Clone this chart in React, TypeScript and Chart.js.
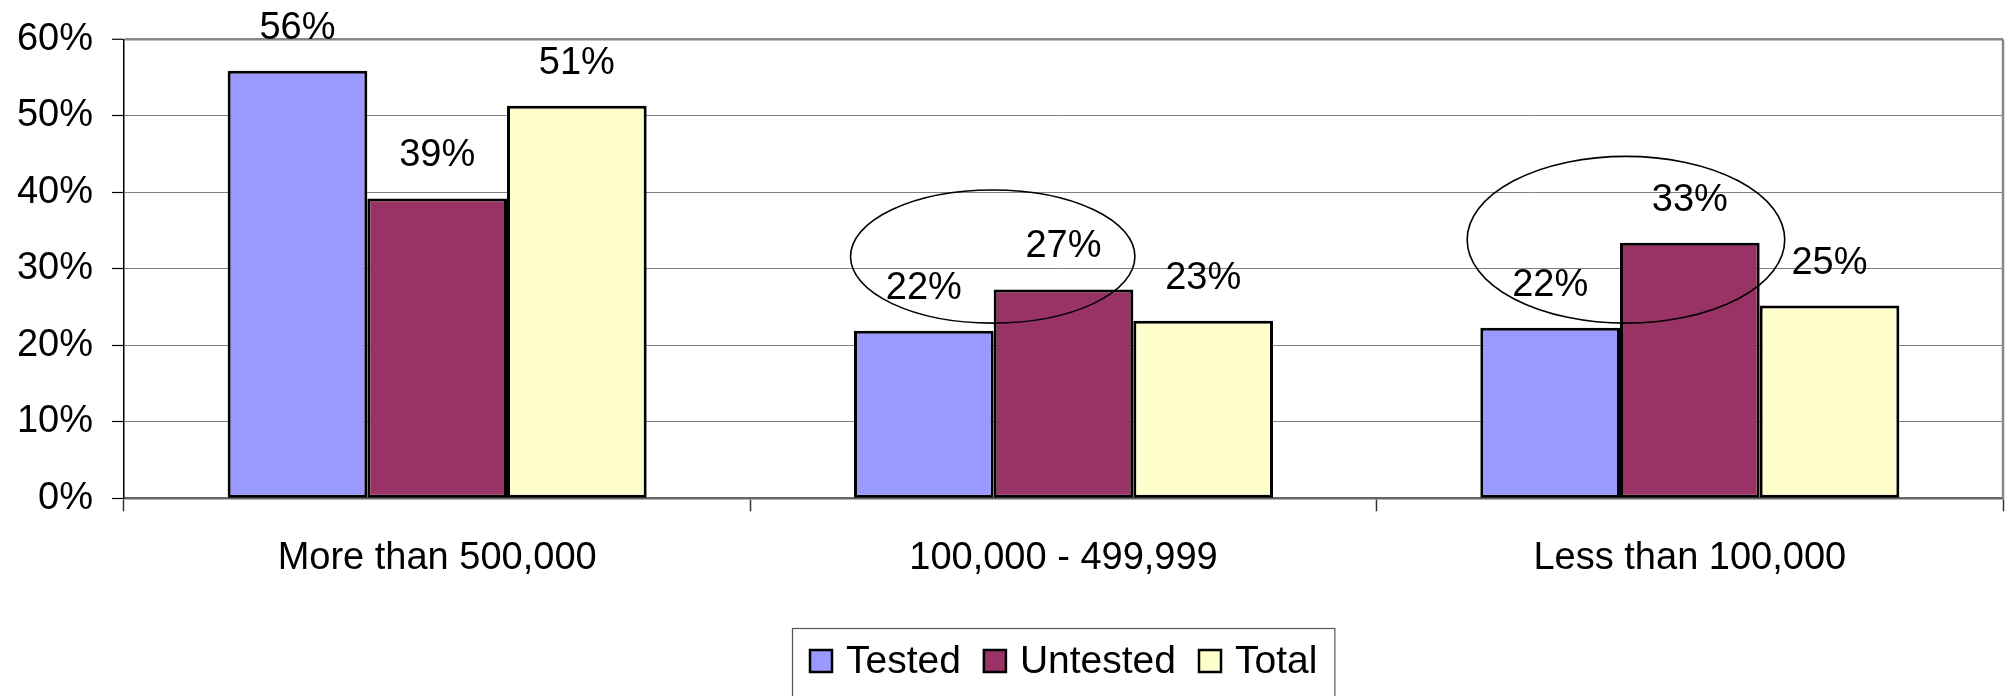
import React, { useEffect, useRef } from "react";
import { Chart, registerables } from "chart.js";

Chart.register(...registerables);

const FONT = '"Liberation Sans", Arial, Helvetica, sans-serif';

// ---- Data ----
const categories = ["More than 500,000", "100,000 - 499,999", "Less than 100,000"];
const seriesNames = ["Tested", "Untested", "Total"];
const testedValues = [55.9, 21.9, 22.3];
const untestedValues = [39.2, 27.3, 33.4];
const totalValues = [51.3, 23.2, 25.2];
const seriesColors = ["#9999FF", "#993366", "#FFFFCC"];
const yTickValues = [0, 10, 20, 30, 40, 50, 60];

// ---- Annotation ellipses (in category / value units) ----
const ellipseCategory = [1, 2];
const ellipseShift = [-0.113, -0.102]; // fraction of a category width
const ellipseCenterValue = [31.6, 33.8]; // percent
const ellipseHalfWidth = [0.227, 0.2535]; // fraction of a category width
const ellipseHalfHeight = [8.7, 10.9]; // percent

const annotationPlugin = {
  id: "annotations",
  beforeDatasetsDraw(chart: any) {
    const { ctx, chartArea } = chart;
    ctx.save();
    ctx.strokeStyle = "#888";
    ctx.lineWidth = 2.5;
    ctx.beginPath();
    ctx.moveTo(chartArea.right, chartArea.top);
    ctx.lineTo(chartArea.right, chartArea.bottom);
    ctx.stroke();
    ctx.restore();
  },
  afterDatasetsDraw(chart: any) {
    const ctx = chart.ctx;
    ctx.save();
    ctx.font = `38px ${FONT}`;
    ctx.fillStyle = "#000";
    ctx.textAlign = "center";
    ctx.textBaseline = "alphabetic";
    chart.data.datasets.forEach((ds: any, di: number) => {
      const meta = chart.getDatasetMeta(di);
      meta.data.forEach((el: any, i: number) => {
        ctx.fillText(Math.round(ds.data[i]) + "%", el.x, el.y - 32);
      });
    });
    const xs = chart.scales.x;
    const ys = chart.scales.y;
    const catW = xs.getPixelForValue(1) - xs.getPixelForValue(0);
    ctx.strokeStyle = "#000";
    ctx.lineWidth = 1.6;
    ellipseCategory.forEach((c, k) => {
      const cx = xs.getPixelForValue(c) + ellipseShift[k] * catW;
      const cy = ys.getPixelForValue(ellipseCenterValue[k]);
      const rx = ellipseHalfWidth[k] * catW;
      const ry = Math.abs(ys.getPixelForValue(ellipseCenterValue[k] + ellipseHalfHeight[k]) - cy);
      ctx.beginPath();
      ctx.ellipse(cx, cy, rx, ry, 0, 0, Math.PI * 2);
      ctx.stroke();
    });
    ctx.restore();
  },
  afterDraw(chart: any) {
    const { ctx, chartArea } = chart;
    const items = chart.data.datasets;
    ctx.save();
    ctx.font = `39px ${FONT}`;
    const sq = 24;
    const gapSqText = 13;
    const itemGap = 22;
    const padX = 17;
    const widths = items.map((d: any) => ctx.measureText(d.label).width);
    let total = padX * 2 + itemGap * (items.length - 1);
    widths.forEach((w: number) => (total += sq + gapSqText + w));
    const left = Math.round((chartArea.left + chartArea.right) / 2 - total / 2);
    const top = Math.round(chartArea.bottom + 130);
    ctx.strokeStyle = "#555";
    ctx.lineWidth = 1.2;
    ctx.strokeRect(left + 0.5, top + 0.5, total, 200);
    let x = left + padX;
    const sqTop = top + 21;
    items.forEach((d: any, i: number) => {
      ctx.fillStyle = d.backgroundColor;
      ctx.fillRect(x, sqTop, sq, sq);
      ctx.strokeStyle = "#000";
      ctx.lineWidth = 2.5;
      ctx.strokeRect(x + 1, sqTop + 1, sq - 2, sq - 2);
      ctx.fillStyle = "#000";
      ctx.textAlign = "left";
      ctx.textBaseline = "alphabetic";
      ctx.fillText(d.label, x + sq + gapSqText, top + 45);
      x += sq + gapSqText + widths[i] + itemGap;
    });
    ctx.restore();
  },
};

export default function App() {
  const canvasRef = useRef<HTMLCanvasElement | null>(null);

  useEffect(() => {
    document.body.style.margin = "0";
    document.body.style.overflow = "hidden";
    const canvas = canvasRef.current;
    if (!canvas) return;
    const seriesValues = [testedValues, untestedValues, totalValues];
    const chart = new Chart(canvas, {
      type: "bar",
      data: {
        labels: categories,
        datasets: seriesNames.map((name, i) => ({
          label: name,
          data: seriesValues[i],
          backgroundColor: seriesColors[i],
          borderColor: "#000",
          borderWidth: 3,
          borderSkipped: false,
          categoryPercentage: 0.669,
          barPercentage: 1.0,
        })),
      },
      options: {
        animation: false,
        responsive: true,
        maintainAspectRatio: false,
        layout: { padding: { top: 39.3, right: 3, left: 0, bottom: 0 } },
        plugins: {
          legend: { display: false },
          tooltip: { enabled: false },
        },
        scales: {
          x: {
            grid: {
              drawOnChartArea: false,
              drawTicks: true,
              tickLength: 13,
              tickColor: "#333",
              tickWidth: 1.5,
            },
            border: { color: "#666", width: 2.5 },
            ticks: {
              font: { size: 38, family: FONT },
              color: "#000",
              padding: 24,
              maxRotation: 0,
            },
            afterFit: (s: any) => {
              s.height = 197.7;
              s.paddingLeft = 0;
              s.paddingRight = 0;
            },
          },
          y: {
            min: 0,
            max: 60,
            afterBuildTicks: (s: any) => {
              s.ticks = yTickValues.map((v) => ({ value: v }));
            },
            grid: {
              color: (c: any) => (c.tick && c.tick.value === 60 ? "#888" : "#808080"),
              lineWidth: (c: any) => (c.tick && c.tick.value === 60 ? 2.5 : 1),
              tickColor: "#000",
              tickWidth: 1.2,
              tickLength: 12,
            },
            border: { color: "#000", width: 1.5 },
            ticks: {
              font: { size: 38, family: FONT },
              color: "#000",
              padding: 19,
              callback: (v: any) => v + "%",
            },
            afterFit: (s: any) => {
              s.width = 124;
              s.paddingTop = 0;
              s.paddingBottom = 0;
            },
          },
        },
      },
      plugins: [annotationPlugin],
    });
    return () => chart.destroy();
  }, []);

  return (
    <div style={{ width: 2006, height: 696, position: "relative", background: "#fff" }}>
      <canvas ref={canvasRef} />
    </div>
  );
}
